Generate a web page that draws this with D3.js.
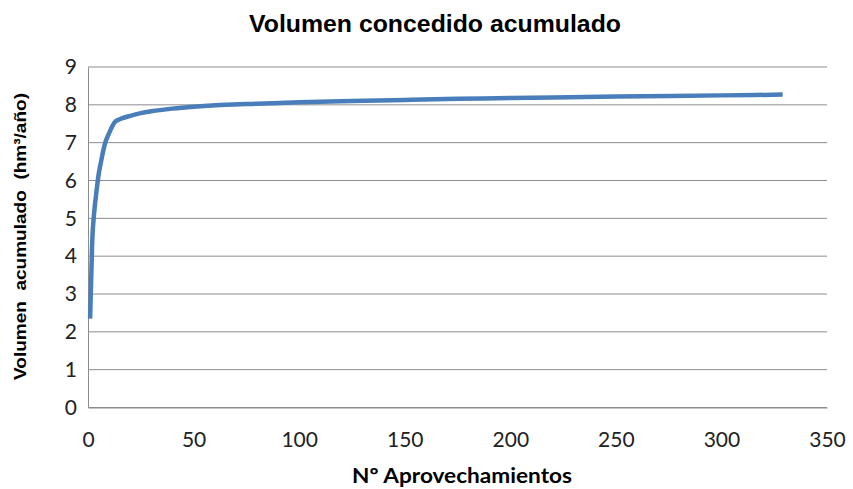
<!DOCTYPE html>
<html>
<head>
<meta charset="utf-8">
<script src="https://cdn.jsdelivr.net/npm/d3@7"></script>
<style>
  body { margin: 0; background: #fff; }
  svg { display: block; }
</style>
</head>
<body>
<div id="chart"></div>
<script>
// Data
const aprovechamientos = [1, 2, 3, 4, 5, 6, 8, 10, 13, 16, 20, 25, 30, 40, 50, 65, 80, 100, 125, 150, 175, 200, 250, 300, 329];
const volumen = [2.35, 4.4, 5.2, 5.7, 6.15, 6.45, 6.97, 7.25, 7.56, 7.64, 7.71, 7.78, 7.83, 7.9, 7.95, 8.0, 8.03, 8.07, 8.1, 8.13, 8.16, 8.18, 8.22, 8.25, 8.27];
const xTicks = [0, 50, 100, 150, 200, 250, 300, 350];
const yTicks = [0, 1, 2, 3, 4, 5, 6, 7, 8, 9];

const chartTitle = 'Volumen concedido acumulado';
const xTitle = 'Nº Aprovechamientos';
const yTitle = 'Volumen  acumulado  (hm³/año)';

const W = 853, H = 489;
const margin = { top: 67, right: 26, bottom: 81.5, left: 88 };
const width = W - margin.left - margin.right;
const height = H - margin.top - margin.bottom;

const data = aprovechamientos.map((x, i) => ({ x: x, y: volumen[i] }));

const svg = d3.select('#chart')
  .append('svg')
  .attr('width', W)
  .attr('height', H);

const g = svg.append('g')
  .attr('transform', `translate(${margin.left}, ${margin.top})`);

// Scales
const xScale = d3.scaleLinear().domain([0, 350]).range([0, width]);
const yScale = d3.scaleLinear().domain([0, 9]).range([height, 0]);

// Horizontal gridlines
g.append('g')
  .selectAll('line')
  .data(yTicks)
  .enter()
  .append('line')
  .attr('x1', 0)
  .attr('x2', width)
  .attr('y1', d => yScale(d))
  .attr('y2', d => yScale(d))
  .attr('stroke', '#8c8c8c')
  .attr('stroke-width', 1);

// Y axis
const yAxis = d3.axisLeft(yScale).tickValues(yTicks).tickSize(0).tickPadding(11);
g.append('g')
  .call(yAxis)
  .call(a => a.select('.domain').attr('stroke', '#8c8c8c'))
  .selectAll('text')
  .attr('font-family', 'Lato, sans-serif')
  .attr('font-size', 21)
  .attr('fill', '#222');

// X axis
const xAxis = d3.axisBottom(xScale).tickValues(xTicks).tickSize(0).tickPadding(25);
g.append('g')
  .attr('transform', `translate(0, ${height})`)
  .call(xAxis)
  .call(a => a.select('.domain').attr('stroke', '#8c8c8c'))
  .selectAll('text')
  .attr('font-family', 'Lato, sans-serif')
  .attr('font-size', 21)
  .attr('fill', '#222');

// Line
const line = d3.line()
  .x(d => xScale(d.x))
  .y(d => yScale(d.y))
  .curve(d3.curveMonotoneX);

g.append('path')
  .datum(data)
  .attr('fill', 'none')
  .attr('stroke', '#4a7ebb')
  .attr('stroke-width', 4.5)
  .attr('stroke-linejoin', 'round')
  .attr('d', line);

// Titles
svg.append('text')
  .attr('x', 435)
  .attr('y', 32)
  .attr('text-anchor', 'middle')
  .attr('font-family', 'Liberation Sans, Arial, sans-serif')
  .attr('font-weight', 'bold')
  .attr('font-size', 23)
  .attr('textLength', 372)
  .attr('lengthAdjust', 'spacingAndGlyphs')
  .attr('fill', '#000')
  .text(chartTitle);

svg.append('text')
  .attr('x', 462)
  .attr('y', 483)
  .attr('text-anchor', 'middle')
  .attr('font-family', 'Lato, sans-serif')
  .attr('font-weight', 'bold')
  .attr('font-size', 21)
  .attr('textLength', 220)
  .attr('lengthAdjust', 'spacingAndGlyphs')
  .attr('fill', '#000')
  .text(xTitle);

svg.append('text')
  .attr('transform', 'translate(25.5, 236.5) rotate(-90)')
  .attr('text-anchor', 'middle')
  .attr('font-family', 'Liberation Sans, Arial, sans-serif')
  .attr('font-weight', 'bold')
  .attr('font-size', 17)
  .attr('textLength', 287)
  .attr('lengthAdjust', 'spacingAndGlyphs')
  .attr('fill', '#000')
  .style('white-space', 'pre')
  .text(yTitle);
</script>
</body>
</html>
